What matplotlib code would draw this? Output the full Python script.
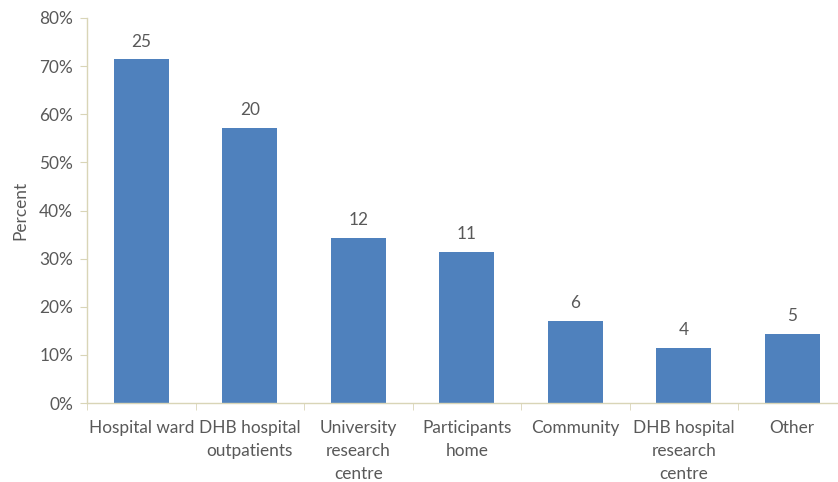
import matplotlib.pyplot as plt
from matplotlib.ticker import MultipleLocator, PercentFormatter

categories = [
    "Hospital ward",
    "DHB hospital\noutpatients",
    "University\nresearch\ncentre",
    "Participants\nhome",
    "Community",
    "DHB hospital\nresearch\ncentre",
    "Other",
]
counts = [25, 20, 12, 11, 6, 4, 5]
percents = [71.4, 57.1, 34.3, 31.4, 17.1, 11.4, 14.3]

BAR_COLOR = "#4F81BD"
TEXT_COLOR = "#595959"
AXIS_COLOR = "#D9D5B7"


def main() -> None:
    plt.rcParams["font.family"] = ["Lato", "DejaVu Sans"]
    plt.rcParams["font.size"] = 12.4

    fig = plt.figure(figsize=(8.38, 4.82), dpi=100)
    ax = fig.add_axes([87 / 838, 79 / 482, 759.5 / 838, 385 / 482])

    x = list(range(len(categories)))
    bars = ax.bar(x, percents, width=0.51, color=BAR_COLOR)

    for bar, n in zip(bars, counts):
        ax.annotate(
            str(n),
            (bar.get_x() + bar.get_width() / 2, bar.get_height()),
            xytext=(0, 7),
            textcoords="offset points",
            ha="center",
            va="bottom",
            color=TEXT_COLOR,
        )

    ax.set_xlim(-0.5, len(categories) - 0.5)
    ax.set_ylim(0, 80)
    ax.yaxis.set_major_locator(MultipleLocator(10))
    ax.yaxis.set_major_formatter(PercentFormatter(decimals=0))

    # Category labels in the middle, tick marks on the boundaries
    ax.set_xticks(x)
    ax.set_xticklabels(categories, color=TEXT_COLOR, linespacing=1.55, va="top")
    ax.tick_params(axis="x", length=0, pad=12)
    ax.set_xticks([i - 0.5 for i in range(len(categories) + 1)], minor=True)
    ax.tick_params(axis="x", which="minor", length=5, color=AXIS_COLOR, direction="out")

    ax.tick_params(axis="y", length=5, color=AXIS_COLOR, labelcolor=TEXT_COLOR, pad=5)
    ax.set_ylabel("Percent", color=TEXT_COLOR, labelpad=8)

    for side in ["top", "right"]:
        ax.spines[side].set_visible(False)
    for side in ["left", "bottom"]:
        ax.spines[side].set_color(AXIS_COLOR)
        ax.spines[side].set_linewidth(1.0)

    fig.savefig("out.png", dpi=100)
    plt.close(fig)


if __name__ == "__main__":
    main()
